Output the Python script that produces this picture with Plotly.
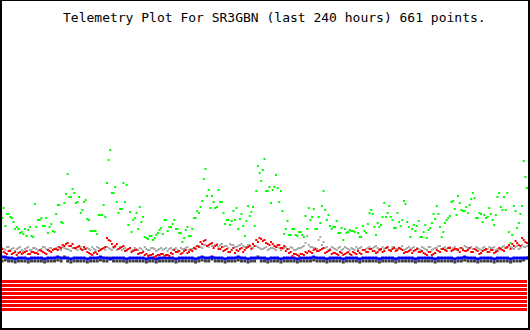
import numpy as np
import plotly.graph_objects as go

TITLE = "Telemetry Plot For SR3GBN (last 240 hours) 661 points."

# sample times (hours) across the 240 hour window: main samples and in-between samples
hours = np.arange(161) * 1.5
hours_b = np.arange(160) * 1.5 + 0.75

green = [112,104,116,112,101,101,98,101,100,94,126,110,112,104,97,106,98,125,108,127,156,133,137,128,117,128,111,99,99,96,115,125,
         147,180,137,128,121,147,145,118,110,117,123,113,92,94,90,95,100,96,110,103,106,101,97,88,100,94,101,112,117,129,161,140,134,
         122,140,128,106,110,109,110,101,116,94,124,118,104,164,149,171,139,127,143,142,139,96,109,95,101,94,98,93,101,110,121,101,
         107,139,110,104,103,109,97,90,97,100,99,102,93,104,97,117,116,95,103,113,113,124,110,102,108,110,126,103,101,99,109,93,
         105,100,107,111,116,93,107,112,128,121,134,120,119,117,131,132,112,116,115,113,116,105,133,123,133,137,87,124,102,116,169,142]

green_b = [122,116,113,108,103,97,96,94,103,93,103,110,104,112,103,99,116,125,107,136,133,141,127,133,120,130,110,99,99,115,115,
           113,170,137,143,117,121,128,105,98,112,101,108,93,91,94,92,97,102,110,99,103,110,101,97,92,103,94,112,119,123,151,134,122,
           128,123,128,117,110,105,119,122,111,104,109,114,123,139,157,160,139,143,140,155,128,119,101,95,101,95,98,95,114,122,113,101,
           113,124,120,115,101,103,97,102,101,98,99,98,97,93,99,106,120,103,107,105,127,117,113,102,117,104,129,108,93,105,104,93,
           98,92,102,116,124,103,98,110,114,129,115,127,119,123,125,137,112,117,108,112,122,110,115,137,120,120,98,95,119,107,124,153]

red = [81,77,79,76,78,77,76,78,76,78,77,76,79,77,80,78,81,80,82,84,87,84,82,83,81,83,78,76,77,76,80,82,
       92,89,83,86,82,84,80,82,79,80,77,78,76,75,76,74,75,76,75,74,76,78,79,77,80,78,79,81,83,86,90,85,87,
       84,81,83,80,78,80,77,79,82,80,83,81,84,88,91,90,86,88,84,85,82,84,81,78,76,75,76,75,77,78,80,79,
       80,82,78,80,77,76,78,75,77,76,78,76,77,80,78,81,79,77,80,78,82,80,81,79,82,80,78,79,77,80,78,79,
       76,78,75,77,79,81,80,82,79,81,80,82,79,80,78,81,79,77,80,78,80,77,79,81,79,83,81,84,87,84,90,87]

red_b = [78,76,79,77,75,78,77,79,76,78,77,80,78,76,79,80,81,83,85,86,84,86,82,84,80,81,77,75,78,79,81,83,
         90,86,84,81,83,79,81,78,80,76,77,75,74,75,73,75,76,74,75,77,80,78,76,79,77,80,82,84,88,89,84,86,
         82,85,81,79,81,78,82,80,81,78,82,84,86,90,92,89,87,85,86,83,85,82,79,77,74,76,74,76,78,79,77,81,
         79,81,77,79,76,77,75,77,76,78,75,77,79,76,80,78,81,79,78,81,79,83,79,82,80,81,77,78,80,79,81,78,
         77,75,78,76,80,78,81,79,82,80,81,78,80,79,82,78,80,76,79,81,78,80,78,82,80,82,85,86,89,85,92,88]

gray = [82,80,83,81,79,82,80,81,83,80,82,79,81,83,80,82,81,83,80,82,81,79,82,80,83,81,82,80,81,83,81,82,
        83,81,82,80,83,81,79,82,80,81,82,79,81,80,82,79,81,80,82,81,80,82,79,81,82,80,81,83,84,82,85,83,84,
        85,83,86,84,82,85,83,84,86,83,85,82,84,83,81,82,80,82,81,83,80,82,81,83,80,81,82,84,94,83,82,81,
        93,88,83,81,82,80,83,81,82,80,81,83,82,80,81,83,82,84,81,83,82,80,83,81,82,84,81,83,82,80,81,83,
        81,83,80,82,84,81,83,82,80,83,81,82,84,82,83,81,82,80,83,81,82,83,81,82,84,82,83,81,84,82,83,84]

gray_b = [81,83,80,82,81,83,79,82,80,82,81,80,83,81,82,80,82,81,83,81,80,82,81,83,80,82,81,83,80,82,81,80,
          82,80,83,81,80,82,81,79,82,80,81,83,80,82,81,80,82,81,79,82,81,80,82,81,83,81,82,84,83,85,84,86,
          84,86,85,83,84,86,85,83,85,84,83,85,82,84,82,81,83,81,82,80,82,81,83,81,82,80,82,83,87,85,83,82,
          90,85,82,80,83,81,82,80,83,81,82,80,81,83,80,82,81,83,82,80,81,82,80,83,81,82,80,82,81,83,82,80,
          82,80,83,81,82,84,82,81,83,82,80,82,81,83,82,81,83,81,82,80,83,82,80,81,83,82,84,82,83,81,85,83]

blue = [73,73,72,72,71,72,72,72,71,72,72,72,72,71,72,72,72,73,72,72,72,71,72,72,72,72,71,72,72,72,73,72,
        72,71,72,72,72,72,71,72,72,72,72,72,71,72,72,71,72,72,72,72,72,71,72,72,72,72,72,71,72,73,72,72,73,
        72,72,72,71,72,72,72,73,72,72,71,72,72,72,72,72,71,72,72,72,71,72,72,72,72,71,72,72,72,72,73,72,
        72,72,71,72,72,72,72,71,72,72,72,72,71,72,72,72,72,72,71,72,72,72,72,71,72,72,72,72,72,71,72,72,
        72,72,72,71,72,72,72,72,72,71,72,72,73,72,72,72,71,72,72,72,72,71,72,72,72,72,71,72,72,72,72,72]

dark = [69,70,69,69,68,69,69,69,68,69,69,69,69,68,69,69,69,70,69,73,69,68,69,69,69,69,68,69,69,69,70,69,
        69,72,69,69,69,69,68,69,69,69,69,69,68,69,69,68,69,69,69,69,69,68,69,69,69,69,69,68,69,70,69,69,71,
        69,69,69,68,69,69,69,70,69,69,68,69,69,73,69,69,68,69,69,69,68,69,69,69,69,68,69,69,69,69,70,69,
        69,69,68,69,69,69,69,68,69,69,69,69,68,69,69,69,69,69,68,69,69,69,69,68,69,69,69,69,69,68,69,69,
        69,69,69,68,69,69,69,69,69,68,69,69,70,69,69,69,68,69,69,69,69,68,69,69,69,69,68,69,69,69,70,72]

# eight status-bit channels, each drawn as a band at its own level
bit_levels = [48.5, 44.5, 40.5, 36.5, 32.5, 28.5, 24.5, 20.5]

for name, s in [("green", green), ("red", red), ("gray", gray), ("blue", blue), ("dark", dark)]:
    assert len(s) == len(hours), (name, len(s))
for name, s in [("green_b", green_b), ("red_b", red_b), ("gray_b", gray_b)]:
    assert len(s) == len(hours_b), (name, len(s))

fig = go.Figure()

for lvl in bit_levels:
    fig.add_trace(go.Scatter(x=[hours[0], hours[-1]], y=[lvl, lvl], mode="lines",
                             line=dict(color="#ff0000", width=3), hoverinfo="skip"))

def pts(x, y, color, size, line_w=0):
    mode = "markers" if line_w == 0 else "lines+markers"
    return go.Scatter(x=x, y=y, mode=mode,
                      line=dict(color=color, width=line_w),
                      marker=dict(symbol="square", size=size, color=color, line=dict(width=0)),
                      hoverinfo="skip")

fig.add_trace(pts(hours, dark, "#404040", 3))
fig.add_trace(pts(hours, blue, "#0000ff", 3, 2))
fig.add_trace(pts(hours, gray, "#a8a8a8", 2))
fig.add_trace(pts(hours_b, gray_b, "#a8a8a8", 2))
fig.add_trace(pts(hours, red, "#ff0000", 2))
fig.add_trace(pts(hours_b, red_b, "#ff0000", 2))
fig.add_trace(pts(hours, green, "#00ff00", 2))
fig.add_trace(pts(hours_b, green_b, "#00ff00", 2))

W, H = 530, 330
x0 = -2 / 2.1875
x1 = 528 / 2.1875

fig.update_layout(
    width=W, height=H, margin=dict(l=0, r=0, t=0, b=0),
    paper_bgcolor="white", plot_bgcolor="white", showlegend=False,
    xaxis=dict(range=[x0, x1], visible=False, fixedrange=True),
    yaxis=dict(range=[0, 330], visible=False, fixedrange=True),
    shapes=[
        dict(type="rect", xref="paper", yref="paper", x0=0, x1=2 / W, y0=0, y1=1, fillcolor="black", line=dict(width=0)),
        dict(type="rect", xref="paper", yref="paper", x0=1 - 2 / W, x1=1, y0=0, y1=1, fillcolor="black", line=dict(width=0)),
        dict(type="rect", xref="paper", yref="paper", x0=0, x1=1, y0=0, y1=2 / H, fillcolor="black", line=dict(width=0)),
        dict(type="rect", xref="paper", yref="paper", x0=0, x1=1, y0=1 - 1 / H, y1=1, fillcolor="black", line=dict(width=0)),
    ],
    annotations=[dict(text=TITLE, xref="paper", yref="paper", x=274.5 / W, y=1 - 17 / H,
                      xanchor="center", yanchor="middle", showarrow=False,
                      font=dict(family="DejaVu Sans Mono", size=13, color="black"))],
)

fig.write_html("out.html", config={"displayModeBar": False, "staticPlot": True})
